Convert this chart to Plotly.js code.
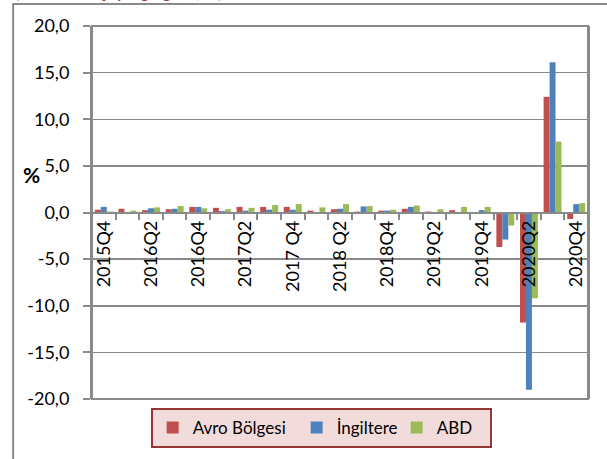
<!DOCTYPE html>
<html>
<head>
<meta charset="utf-8">
<script src="https://cdn.plot.ly/plotly-3.0.1.min.js"></script>
<style>html,body{margin:0;padding:0;background:#fff;}#chart{width:607px;height:459px;}</style>
</head>
<body>
<div id="chart"></div>
<script>
const quarters = ["2015Q4","2016Q1","2016Q2","2016Q3","2016Q4","2017Q1","2017Q2","2017Q3","2017Q4","2018Q1","2018Q2","2018Q3","2018Q4","2019Q1","2019Q2","2019Q3","2019Q4","2020Q1","2020Q2","2020Q3","2020Q4"];
const quarterLabels = ["2015Q4","","2016Q2","","2016Q4","","2017Q2","","2017 Q4","","2018 Q2","","2018Q4","","2019Q2","","2019Q4","","2020Q2","","2020Q4"];
const avro = [0.3,0.4,0.25,0.35,0.6,0.5,0.6,0.6,0.6,0.2,0.35,0.1,0.2,0.4,0.1,0.25,0.05,-3.7,-11.8,12.4,-0.7];
const ingiltere = [0.6,0.05,0.45,0.4,0.6,0.15,0.2,0.3,0.3,0.05,0.4,0.65,0.2,0.6,0.0,0.0,0.25,-2.9,-19.0,16.1,0.9];
const abd = [0.1,0.2,0.55,0.7,0.45,0.35,0.5,0.8,0.9,0.55,0.9,0.7,0.3,0.75,0.35,0.6,0.6,-1.4,-9.2,7.6,1.0];
const seriesNames = ["Avro Bölgesi","İngiltere","ABD"];
const yTickVals = [-20,-15,-10,-5,0,5,10,15,20];
const yTickText = ["-20,0","-15,0","-10,0","-5,0","0,0","5,0","10,0","15,0","20,0"];
const titleText = "(Bir önceki çeyreğe göre, %)";

const colors = ["#C0504D","#4F81BD","#9BBB59"];
const legendWidths = [99, 55, 48];
const grid = "#8a8a8a";
const font = "Lato, 'Open Sans', sans-serif";

const traces = [avro, ingiltere, abd].map((vals, i) => ({
  type: "bar", x: quarters, y: vals, name: seriesNames[i], legendwidth: legendWidths[i],
  marker: {color: colors[i], line: {width: 0}}, hoverinfo: "none"
}));

const boundaries = quarters.slice(1).map((q, i) => i + 0.5);

const layout = {
  width: 607, height: 459,
  margin: {l: 92, r: 19, t: 26, b: 59},
  paper_bgcolor: "#fff", plot_bgcolor: "#fff",
  font: {family: font, size: 18, color: "#000"},
  barmode: "group", bargap: 0.24, bargroupgap: 0,
  showlegend: true,
  legend: {
    orientation: "h", x: 0.462, xanchor: "center", y: -0.021, yanchor: "top",
    bgcolor: "#F2DCDB", bordercolor: "#953735", borderwidth: 2,
    font: {family: font, size: 17, color: "#000"}, itemwidth: 30
  },
  xaxis: {
    type: "category", range: [-0.5, quarters.length - 0.5],
    anchor: "free", position: 0.5,
    tickmode: "array", tickvals: quarters, ticktext: quarterLabels,
    tickson: "boundaries", ticks: "outside", ticklen: 6, tickwidth: 2, tickcolor: grid,
    tickangle: -90, tickfont: {family: font, size: 18, color: "#000"},
    showline: true, linecolor: grid, linewidth: 2, showgrid: false, zeroline: false
  },
  xaxis2: {
    type: "linear", overlaying: "x", anchor: "free", position: 0.5,
    range: [-0.5, quarters.length - 0.5],
    tickmode: "array", tickvals: boundaries, ticks: "inside", ticklen: 6, tickwidth: 2, tickcolor: grid,
    showticklabels: false, showline: false, showgrid: false, zeroline: false
  },
  yaxis: {
    range: [-20, 20], tickmode: "array", tickvals: yTickVals, ticktext: yTickText,
    ticks: "outside", ticklen: 7, tickwidth: 2, tickcolor: grid,
    showgrid: true, gridcolor: grid, gridwidth: 1.5,
    showline: true, linecolor: grid, linewidth: 2, mirror: true, zeroline: false,
    ticklabelstandoff: 10, tickfont: {family: font, size: 18, color: "#000"}
  },
  shapes: [
    {type: "rect", xref: "paper", yref: "paper", x0: 0, x1: 1, y0: 0, y1: 1,
     line: {color: grid, width: 2}, layer: "above"},
    {type: "rect", xref: "paper", yref: "paper", x0: -0.159, x1: 1.08, y0: -0.25, y1: 1.059,
     line: {color: grid, width: 2}, layer: "below"}
  ],
  annotations: [
    {text: "<b>%</b>", xref: "paper", yref: "paper", x: -0.121, y: 0.6016,
     xanchor: "center", yanchor: "middle", showarrow: false,
     font: {family: font, size: 21, color: "#000"}},
    {text: "<b>" + titleText + "</b>", xref: "paper", yref: "paper", x: -0.159, y: 1.058,
     xanchor: "left", yanchor: "bottom", showarrow: false,
     font: {family: font, size: 17, color: "#A33B38"}}
  ]
};

Plotly.newPlot("chart", traces, layout, {displayModeBar: false, staticPlot: true});
</script>
</body>
</html>
